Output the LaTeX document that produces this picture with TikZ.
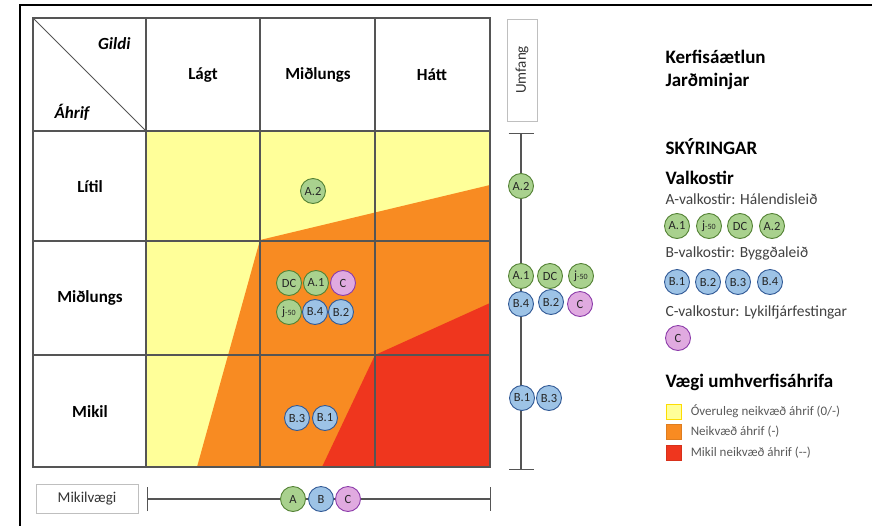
\documentclass[tikz,border=0pt]{standalone}
\usepackage{fontspec}
\setmainfont{Carlito}
\usetikzlibrary{positioning,arrows.meta}
\definecolor{lowyel}{RGB}{255,255,153}
\definecolor{midorg}{RGB}{248,139,34}
\definecolor{highred}{RGB}{239,54,30}
\definecolor{grnfill}{RGB}{169,209,142}
\definecolor{grnline}{RGB}{84,130,53}
\definecolor{blufill}{RGB}{157,195,230}
\definecolor{bluline}{RGB}{50,90,150}
\definecolor{pnkfill}{RGB}{224,170,224}
\definecolor{pnkline}{RGB}{140,60,170}
\definecolor{gridgray}{RGB}{85,85,85}
\definecolor{txtgray}{RGB}{64,64,64}
\tikzset{
    green/.style ={
        shape=circle,
        draw=grnline,
        fill=grnfill,
        text=black!85,
        line width=0.9pt,
        inner sep=0pt,
        minimum size=25pt,
        font=\fontsize{12.5}{12.5}\selectfont
    },
    blue/.style ={
        shape=circle,
        draw=bluline,
        fill=blufill,
        text=black!85,
        line width=0.9pt,
        inner sep=0pt,
        minimum size=25pt,
        font=\fontsize{12.5}{12.5}\selectfont
    },
    pink/.style ={
        shape=circle,
        draw=pnkline,
        fill=pnkfill,
        text=black!85,
        line width=0.9pt,
        inner sep=0pt,
        minimum size=25pt,
        font=\fontsize{12.5}{12.5}\selectfont
    },
    head/.style ={
        font=\bfseries\fontsize{17}{17}\selectfont
    },
    title/.style ={
        anchor=west,
        align=left,
        font=\bfseries\fontsize{19}{23}\selectfont
    },
    legtxt/.style ={
        anchor=west,
        text=txtgray,
        font=\fontsize{15.5}{15.5}\selectfont
    },
    legsq/.style ={
        minimum size=15pt,
        inner sep=0pt,
        line width=0.6pt
    },
    sqtxt/.style ={
        text=black!65,
        font=\fontsize{13}{13}\selectfont
    },
    scalebox/.style ={
        draw=black!25,
        line width=0.8pt,
        font=\fontsize{15}{15}\selectfont,
        text=black!80
    },
    axis/.style ={
        draw=gridgray,
        line width=1.3pt
    }
}
\newcommand{\jfifty}{j{\fontsize{8}{8}\selectfont -50}}

\begin{document}
\begin{tikzpicture}[x=1pt,y=-1pt]
    \useasboundingbox (0,0) rectangle (872,525);
    % frame
    \draw[line width=2.2pt] (20,526) -- (20,5) -- (873,5);
    % impact zones
    \fill[lowyel] (146,131) rectangle (490,467);
    \fill[midorg] (260,240) -- (490,185) -- (490,467) -- (197,467) -- cycle;
    \fill[highred] (375,355) -- (490,303) -- (490,467) -- (322,467) -- cycle;
    % grid
    \draw[gridgray, line width=1.2pt] (33,18) rectangle (490,467);
    \foreach \x in {146,260,375} \draw[gridgray, line width=1.2pt] (\x,18) -- (\x,467);
    \foreach \y in {131,241,355} \draw[gridgray, line width=1.2pt] (33,\y) -- (490,\y);
    \draw[gridgray, line width=1pt] (33,18) -- (146,131);
    \node[head, anchor=east] (gildi) at (134,44) {\itshape Gildi};
    \node[head, anchor=west] (ahrif) at (51,112) {\itshape Áhrif};
    \node[head] (lagt) at (203,75) {Lágt};
    \node[head] (midl) at (318,75) {Miðlungs};
    \node[head] (hatt) at (432,75) {Hátt};
    \node[head] (litil) at (90,187) {Lítil};
    \node[head] (midr) at (90,298) {Miðlungs};
    \node[head] (mikil) at (90,412) {Mikil};
    % options in the matrix
    \node[green] (ma2) at (313,191) {A.2};
    \node[green] (mdc) at (289,283) {DC};
    \node[green] (ma1) at (316,283) {A.1};
    \node[pink] (mc) at (343,283) {C};
    \node[green] (mj) at (289,312) {\jfifty};
    \node[blue] (mb4) at (315,312) {B.4};
    \node[blue] (mb2) at (341,312) {B.2};
    \node[blue] (mb3) at (297,418) {B.3};
    \node[blue] (mb1) at (325,418) {B.1};
    % scope scale
    \node[scalebox, rotate=90, minimum width=102pt, minimum height=30pt] (umfang) at (522,70) {Umfang};
    \coordinate (vtop) at (521,133);
    \coordinate (vbot) at (521,470);
    \draw[axis, {Bar[width=25pt]}-{Bar[width=25pt]}] (vtop) -- (vbot);
    \node[green] (sa2) at (521,186) {A.2};
    \node[green] (sa1) at (521,276) {A.1};
    \node[green] (sdc) at (550,276) {DC};
    \node[green] (sj) at (581,276) {\jfifty};
    \node[blue] (sb4) at (521,304) {B.4};
    \node[blue] (sb2) at (551,302) {B.2};
    \node[pink] (sc) at (580,304) {C};
    \node[blue] (sb1) at (522,398) {B.1};
    \node[blue] (sb3) at (549,398) {B.3};
    % importance scale
    \node[scalebox, minimum width=102pt, minimum height=29pt] (mikilv) at (87,498.5) {Mikilvægi};
    \coordinate (hleft) at (147,499);
    \coordinate (hright) at (491,499);
    \draw[axis, {Bar[width=24pt]}-{Bar[width=24pt]}] (hleft) -- (hright);
    \node[green] (ia) at (293,499) {A};
    \node[blue] (ib) at (321,499) {B};
    \node[pink] (ic) at (348,499) {C};
    % legend
    \node[title] (kerfi) at (662,70) {Kerfisáætlun\\Jarðminjar};
    \node[title] (skyr) at (662,147) {SKÝRINGAR};
    \node[title] (valk) at (662,178) {Valkostir};
    \node[legtxt] (lega) at (662,199) {A-valkostir: Hálendisleið};
    \node[green] (la1) at (677,226) {A.1};
    \node[green] (lj) at (709,226) {\jfifty};
    \node[green] (ldc) at (740,226) {DC};
    \node[green] (la2) at (772,226) {A.2};
    \node[legtxt] (legb) at (662,253) {B-valkostir: Byggðaleið};
    \node[blue] (lb1) at (677,282) {B.1};
    \node[blue] (lb2) at (708,282) {B.2};
    \node[blue] (lb3) at (738,282) {B.3};
    \node[blue] (lb4) at (770,282) {B.4};
    \node[legtxt] (legc) at (662,312) {C-valkostur: Lykilfjárfestingar};
    \node[pink] (lc) at (678,338) {C};
    \node[title, font=\bfseries\fontsize{19}{19}\selectfont] (vaegi) at (662,382) {Vægi umhverfisáhrifa};
    \node[legsq, fill=lowyel, draw=yellow!80!orange] (sqlow) at (673.5,411.5) {};
    \node[legsq, fill=midorg, draw=midorg!90!black] (sqmid) at (673.5,431.5) {};
    \node[legsq, fill=highred, draw=highred!90!black] (sqhigh) at (673.5,452.5) {};
    \node[sqtxt, right=6pt of sqlow] (tlow) {Óveruleg neikvæð áhrif (0/-)};
    \node[sqtxt, right=6pt of sqmid] (tmid) {Neikvæð áhrif (-)};
    \node[sqtxt, right=6pt of sqhigh] (thigh) {Mikil neikvæð áhrif ({-}{-})};
\end{tikzpicture}
\end{document}
